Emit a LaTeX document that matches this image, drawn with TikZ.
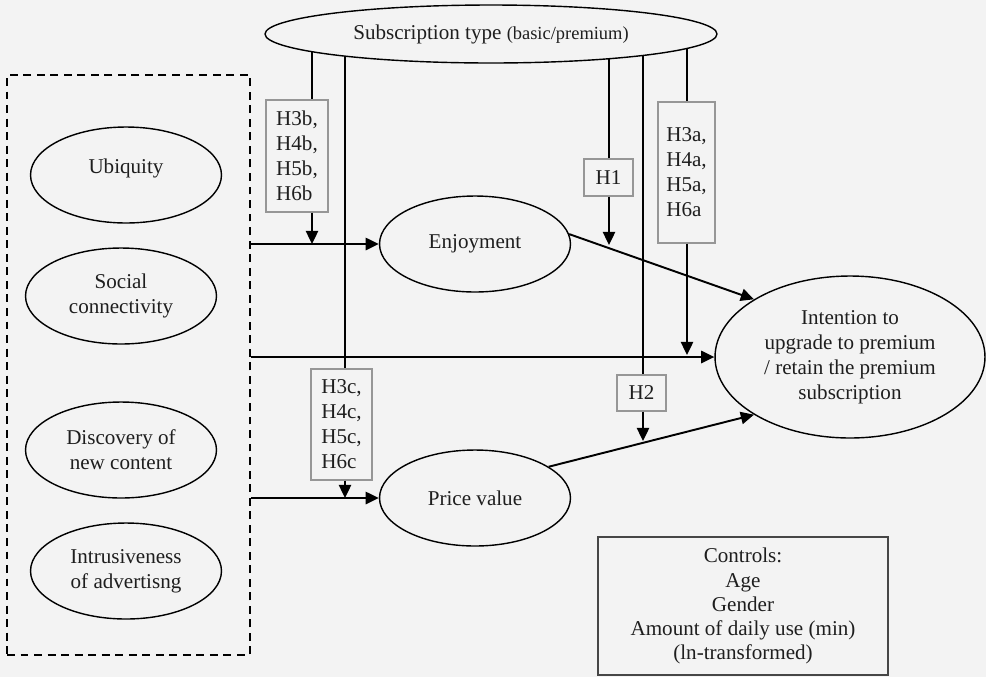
\documentclass[tikz,border=0pt]{standalone}
\usepackage{fontspec}
\setmainfont{Liberation Serif}
\usetikzlibrary{shapes.geometric,arrows.meta,backgrounds}
\definecolor{bg}{RGB}{243,243,243}
\definecolor{txt}{RGB}{30,30,30}
\definecolor{hgray}{RGB}{150,150,150}
\definecolor{cgray}{RGB}{70,70,70}
\begin{document}
\begin{tikzpicture}[x=0.02cm,y=-0.02cm,
  font=\fontsize{12}{14.2}\selectfont, text=txt,
  ell/.style={ellipse,draw,line width=0.8pt,fill=bg,inner sep=0pt,align=center,minimum width=3.82cm,minimum height=1.92cm},
  hbox/.style={draw=hgray,line width=0.6pt,fill=bg,inner sep=0pt,align=left},
  conn/.style={line width=1.1pt},
  arr/.style={line width=1.1pt,-{Triangle[length=7.5pt,width=7pt]}},
]
\begin{scope}[on background layer]
\fill[bg] (0,0) rectangle (986,677);
\end{scope}
\useasboundingbox (0,0) rectangle (986,677);

% top moderator
\node[ell,minimum width=9.04cm,minimum height=1.16cm] (sub) at (491,34) {Subscription type {\fontsize{10.5}{12}\selectfont(basic/premium)}};

% independent variables group
\node[draw,line width=1.1pt,dash pattern=on 4.5pt off 3.2pt,minimum width=4.86cm,minimum height=11.6cm,inner sep=0pt] (grp) at (128.5,365) {};
\node[ell] (ubi) at (126,175) {\raisebox{10pt}{Ubiquity}};
\node[ell] (soc) at (121,296) {Social\\connectivity};
\node[ell] (disc) at (121,450) {Discovery of\\new content};
\node[ell] (intr) at (126,571) {Intrusiveness\\of advertisng};

% mediators and outcome
\node[ell] (enj) at (475,244) {Enjoyment};
\node[ell] (price) at (475,498) {Price value};
\node[ell,minimum width=5.4cm,minimum height=3.24cm] (int) at (850,357) {Intention to\\upgrade to premium\\/ retain the premium\\subscription};

% hypothesis boxes
\node[hbox,minimum width=1.24cm,minimum height=2.24cm] (h3b) at (297,156) {H3b,\\H4b,\\H5b,\\H6b};
\node[hbox,minimum width=1.22cm,minimum height=2.22cm] (h3c) at (341.5,424.5) {H3c,\\H4c,\\H5c,\\H6c};
\node[hbox,minimum width=1.14cm,minimum height=2.82cm] (h3a) at (686.5,172.5) {H3a,\\H4a,\\H5a,\\H6a};
\node[hbox,minimum width=0.98cm,minimum height=0.74cm] (h1) at (608.5,177.5) {H1};
\node[hbox,minimum width=0.98cm,minimum height=0.72cm] (h2) at (641.5,393) {H2};

% controls
\node[draw=cgray,line width=0.8pt,fill=bg,minimum width=5.8cm,minimum height=2.76cm,align=center,inner sep=0pt,font=\fontsize{12}{13.7}\selectfont] (ctrl) at (743,606) {Controls:\\Age\\Gender\\Amount of daily use (min)\\(ln-transformed)};

% anchor points of moderator lines
\coordinate (sb) at (312,34);
\coordinate (sc) at (345,34);
\coordinate (s1) at (609,34);
\coordinate (s2) at (643,34);
\coordinate (sa) at (687,34);
\coordinate (t1) at (609,245);
\coordinate (t2) at (643,441);
\coordinate (ta) at (687,355);

\begin{scope}[on background layer]
\draw[conn] (sb) -- (sb |- h3b.north);
\draw[conn] (sc) -- (sc |- h3c.north);
\draw[conn] (s1) -- (s1 |- h1.north);
\draw[conn] (s2) -- (s2 |- h2.north);
\draw[conn] (sa) -- (sa |- h3a.north);
\end{scope}

% main paths
\draw[arr] (enj.west -| grp.east) -- (enj.west);
\draw[arr] (price.west -| grp.east) -- (price.west);
\draw[arr] (int.west -| grp.east) -- (int.west);
\draw[arr] (enj.6) -- (int.149);
\draw[arr] (price.23) -- (int.211);

% moderation arrows
\draw[arr] (sb |- h3b.south) -- (sb |- enj.west);
\draw[arr] (sc |- h3c.south) -- (sc |- price.west);
\draw[arr] (s1 |- h1.south) -- (t1);
\draw[arr] (s2 |- h2.south) -- (t2);
\draw[arr] (sa |- h3a.south) -- (ta);
\end{tikzpicture}
\end{document}
